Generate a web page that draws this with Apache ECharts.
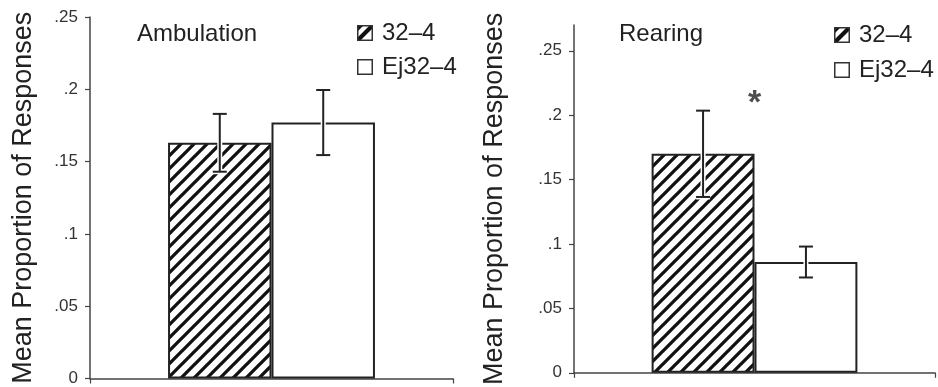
<!DOCTYPE html>
<html>
<head>
<meta charset="utf-8">
<script src="https://cdn.jsdelivr.net/npm/echarts@6/dist/echarts.min.js"></script>
<style>
html,body{margin:0;padding:0;background:#fff;}
#chart{width:938px;height:387px;}
</style>
</head>
<body>
<div id="chart"></div>
<script>
// ---- data ----
const groupNames = ['32–4', 'Ej32–4'];
const panelTitles = ['Ambulation', 'Rearing'];
const categories = ['Ambulation', 'Rearing'];
const ambulationMeans = [0.163, 0.177];
const ambulationErrors = [0.020, 0.0225];
const rearingMeans = [0.170, 0.086];
const rearingErrors = [0.0335, 0.012];
const tickValues = [0, 0.05, 0.1, 0.15, 0.2, 0.25];
const tickLabels = ['0', '.05', '.1', '.15', '.2', '.25'];
const yAxisTitle = 'Mean Proportion of Responses';
const sigMarkText = ['*'];
const sigMarkValue = [0.209];

// ---- styles ----
const FONT = 'Liberation Sans, Arial, sans-serif';
const INK = '#222';
const AXIS = '#444';

function makeHatch() {
  const s = 13;
  const c = document.createElement('canvas');
  c.width = s; c.height = s;
  const ctx = c.getContext('2d');
  ctx.fillStyle = '#fff';
  ctx.fillRect(0, 0, s, s);
  ctx.strokeStyle = '#111';
  ctx.lineWidth = 3.3;
  ctx.beginPath();
  ctx.moveTo(0, s); ctx.lineTo(s, 0);
  ctx.moveTo(-s / 2, s / 2); ctx.lineTo(s / 2, -s / 2);
  ctx.moveTo(s / 2, s * 1.5); ctx.lineTo(s * 1.5, s / 2);
  ctx.stroke();
  return c;
}
function makeLegendIcon(hatched) {
  const s = 16;
  const c = document.createElement('canvas');
  c.width = s; c.height = s;
  const ctx = c.getContext('2d');
  ctx.fillStyle = '#fff';
  ctx.fillRect(0, 0, s, s);
  if (hatched) {
    ctx.save();
    ctx.beginPath(); ctx.rect(1, 1, s - 2, s - 2); ctx.clip();
    ctx.strokeStyle = '#111';
    ctx.lineWidth = 4.2;
    ctx.beginPath();
    ctx.moveTo(-2, s + 2); ctx.lineTo(s + 2, -2);
    ctx.moveTo(-2, 6); ctx.lineTo(6, -2);
    ctx.stroke();
    ctx.restore();
  }
  ctx.strokeStyle = '#333';
  ctx.lineWidth = 1.5;
  ctx.strokeRect(0.75, 0.75, s - 1.5, s - 1.5);
  return 'image://' + c.toDataURL('image/png');
}
const hatchFill = { image: makeHatch(), repeat: 'repeat' };
const fills = [hatchFill, '#ffffff'];
const legendIcons = [makeLegendIcon(true), makeLegendIcon(false)];
const GAP = 0.43;

function tickFormatter(v) {
  for (let i = 0; i < tickValues.length; i++) {
    if (Math.abs(tickValues[i] - v) < 1e-9) return tickLabels[i];
  }
  return '';
}

const grids = [
  { left: 90, right: 485, top: 17, bottom: 4 },
  { left: 574, right: 3, top: 25, bottom: 4 }
];
const yMax = [0.25, 0.27];

function yAxis(i) {
  return {
    type: 'value', gridIndex: i, min: 0, max: yMax[i], interval: 0.05,
    splitLine: { show: false },
    axisLine: { show: true, lineStyle: { color: AXIS, width: 1.5 } },
    axisTick: { show: true, length: 5, customValues: tickValues, lineStyle: { color: AXIS, width: 1.2 } },
    axisLabel: { show: true, margin: 12, customValues: tickValues, formatter: tickFormatter,
      color: '#333', fontSize: 17, fontFamily: FONT },
    name: yAxisTitle, nameLocation: 'middle', nameGap: i === 0 ? 53 : 66,
    nameTextStyle: { color: INK, fontSize: 27, fontFamily: FONT }
  };
}
function xAxis(i) {
  return {
    type: 'category', gridIndex: i, data: [categories[i]],
    axisLine: { show: true, lineStyle: { color: AXIS, width: 1.5 } },
    axisTick: { show: true, length: 5, lineStyle: { color: AXIS, width: 1.2 } },
    axisLabel: { show: false }
  };
}

function barSeries(panel, means) {
  return means.map((m, k) => ({
    type: 'bar', name: groupNames[k], xAxisIndex: panel, yAxisIndex: panel,
    data: [m], barGap: 0, barCategoryGap: (GAP * 100) + '%',
    itemStyle: { color: fills[k], borderColor: INK, borderWidth: 2 },
    emphasis: { disabled: true }
  }));
}

function errorSeries(panel, means, errs) {
  return {
    type: 'custom', xAxisIndex: panel, yAxisIndex: panel, z: 5,
    data: means.map((m, k) => [0, m, errs[k]]),
    renderItem: function (params, api) {
      const idx = params.dataIndex;
      const side = idx === 0 ? -1 : 1;
      const band = api.size([1, 0])[0];
      const barW = band * (1 - GAP) / 2;
      const m = api.value(1), e = api.value(2);
      const top = api.coord([0, m + e]);
      const bot = api.coord([0, m - e]);
      const x = top[0] + side * barW / 2;
      const cap = 7;
      const pts = [
        [[x, top[1]], [x, bot[1]]],
        [[x - cap, top[1]], [x + cap, top[1]]],
        [[x - cap, bot[1]], [x + cap, bot[1]]]
      ];
      const children = [];
      pts.forEach(p => children.push({ type: 'line', shape: { x1: p[0][0], y1: p[0][1], x2: p[1][0], y2: p[1][1] },
        style: { stroke: '#fff', lineWidth: 5 } }));
      pts.forEach(p => children.push({ type: 'line', shape: { x1: p[0][0], y1: p[0][1], x2: p[1][0], y2: p[1][1] },
        style: { stroke: INK, lineWidth: 2 } }));
      return { type: 'group', children: children };
    }
  };
}

const legendCommon = {
  orient: 'vertical', itemWidth: 16, itemHeight: 16, itemGap: 10,
  padding: 0, selectedMode: false,
  data: groupNames.map((n, k) => ({ name: n, icon: legendIcons[k] })),
  textStyle: { color: INK, fontSize: 24, fontFamily: FONT, lineHeight: 24, padding: [0, 0, 0, 4] }
};

const option = {
  animation: false,
  backgroundColor: '#fff',
  title: [
    { text: panelTitles[0], left: 137, top: 22, padding: 0,
      textStyle: { color: INK, fontSize: 24, fontWeight: 'normal', fontFamily: FONT } },
    { text: panelTitles[1], left: 619, top: 22, padding: 0,
      textStyle: { color: INK, fontSize: 24, fontWeight: 'normal', fontFamily: FONT } }
  ],
  legend: [
    Object.assign({}, legendCommon, { left: 357, top: 21 }),
    Object.assign({}, legendCommon, { left: 834, top: 23, itemGap: 11 })
  ],
  grid: grids,
  xAxis: [xAxis(0), xAxis(1)],
  yAxis: [yAxis(0), yAxis(1)],
  series: [].concat(
    barSeries(0, ambulationMeans),
    barSeries(1, rearingMeans),
    [errorSeries(0, ambulationMeans, ambulationErrors),
     errorSeries(1, rearingMeans, rearingErrors),
     {
       type: 'scatter', xAxisIndex: 1, yAxisIndex: 1, symbolSize: 0,
       data: sigMarkValue.map(v => [0, v]),
       label: { show: true, position: 'inside', formatter: () => sigMarkText[0],
         color: INK, fontSize: 34, fontWeight: 'bold', fontFamily: FONT },
       z: 6
     }]
  )
};

const chart = echarts.init(document.getElementById('chart'), null, { renderer: 'canvas' });
chart.setOption(option);
</script>
</body>
</html>
